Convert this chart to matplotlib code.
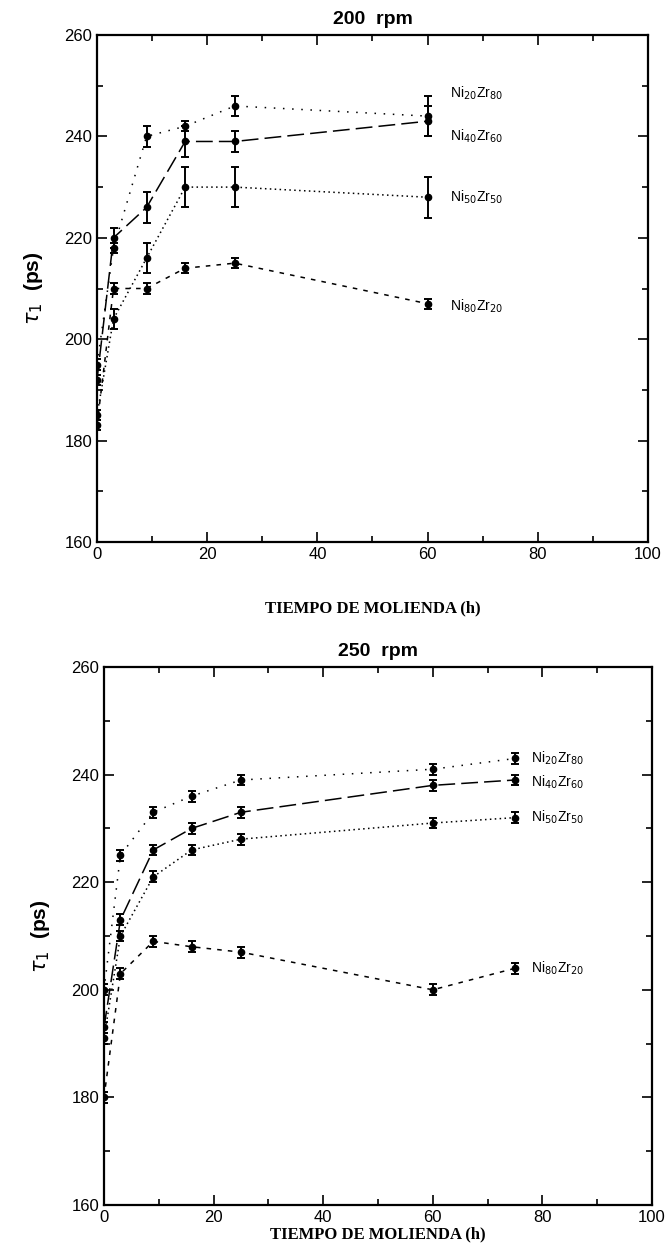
import matplotlib
matplotlib.use("Agg")
import matplotlib.pyplot as plt
from matplotlib.ticker import MultipleLocator

# milling times (h)
t200 = [0, 3, 9, 16, 25, 60]
t250 = [0, 3, 9, 16, 25, 60, 75]

# tau_1 (ps), 200 rpm
ni20_200 = [195, 218, 240, 242, 246, 244]
ni40_200 = [192, 220, 226, 239, 239, 243]
ni50_200 = [185, 204, 216, 230, 230, 228]
ni80_200 = [183, 210, 210, 214, 215, 207]
ni20_200_err = [1, 1, 2, 1, 2, 4]
ni40_200_err = [1, 2, 3, 3, 2, 3]
ni50_200_err = [1, 2, 3, 4, 4, 4]
ni80_200_err = [1, 1, 1, 1, 1, 1]

# tau_1 (ps), 250 rpm
ni20_250 = [200, 225, 233, 236, 239, 241, 243]
ni40_250 = [193, 213, 226, 230, 233, 238, 239]
ni50_250 = [191, 210, 221, 226, 228, 231, 232]
ni80_250 = [180, 203, 209, 208, 207, 200, 204]
ni20_250_err = [1, 1, 1, 1, 1, 1, 1]
ni40_250_err = [1, 1, 1, 1, 1, 1, 1]
ni50_250_err = [1, 1, 1, 1, 1, 1, 1]
ni80_250_err = [1, 1, 1, 1, 1, 1, 1]

names = [r'Ni$_{20}$Zr$_{80}$', r'Ni$_{40}$Zr$_{60}$',
         r'Ni$_{50}$Zr$_{50}$', r'Ni$_{80}$Zr$_{20}$']
styles = [(0, (1, 5)), (0, (11, 4)), (0, (1, 2.2)), (0, (3, 4))]

# label positions (x, y) in data units
lab200_x = 64
lab200_y = [248.5, 240, 228, 206.5]
lab250_x = 78
lab250_y = [243, 238.5, 232, 204]

fig = plt.figure(figsize=(6.69, 12.59), dpi=100)
ax1 = fig.add_axes([97/669, 1-542/1259, 551/669, 507/1259])
ax2 = fig.add_axes([104/669, 1-1205/1259, 548/669, 538/1259])


def draw(ax, t, series, errs, lab_x, lab_y, title, xpad):
    for y, e, ls in zip(series, errs, styles):
        ax.errorbar(t, y, yerr=e, fmt='o', ms=4.5, color='k', ecolor='k',
                    elinewidth=1.4, capsize=2.8, capthick=1.4,
                    linestyle=ls, lw=1.1)
    for n, yy in zip(names, lab_y):
        ax.text(lab_x, yy, n, fontsize=10, va='center', ha='left',
                family='Liberation Sans')
    ax.set_xlim(0, 100)
    ax.set_ylim(160, 260)
    ax.xaxis.set_major_locator(MultipleLocator(20))
    ax.xaxis.set_minor_locator(MultipleLocator(10))
    ax.yaxis.set_major_locator(MultipleLocator(20))
    ax.yaxis.set_minor_locator(MultipleLocator(10))
    ax.tick_params(which='both', direction='in', top=True, right=True,
                   labelsize=12, width=1.2)
    ax.tick_params(which='major', length=7)
    ax.tick_params(which='minor', length=4)
    for lbl in ax.get_xticklabels() + ax.get_yticklabels():
        lbl.set_family('Liberation Sans')
    for s in ax.spines.values():
        s.set_linewidth(1.6)
    ax.set_title(title, fontsize=14, fontweight='bold',
                 family='Liberation Sans', pad=8)
    ax.set_xlabel('TIEMPO DE MOLIENDA (h)', fontsize=12, fontweight='bold',
                  family='Liberation Serif', labelpad=xpad)
    ax.set_ylabel(r'$\tau_1$  (ps)', fontsize=15, fontweight='bold',
                  family='Liberation Sans', labelpad=14)


draw(ax1, t200, [ni20_200, ni40_200, ni50_200, ni80_200],
     [ni20_200_err, ni40_200_err, ni50_200_err, ni80_200_err],
     lab200_x, lab200_y, '200  rpm', 28)
draw(ax2, t250, [ni20_250, ni40_250, ni50_250, ni80_250],
     [ni20_250_err, ni40_250_err, ni50_250_err, ni80_250_err],
     lab250_x, lab250_y, '250  rpm', 1)

fig.savefig('out.png', dpi=100)
